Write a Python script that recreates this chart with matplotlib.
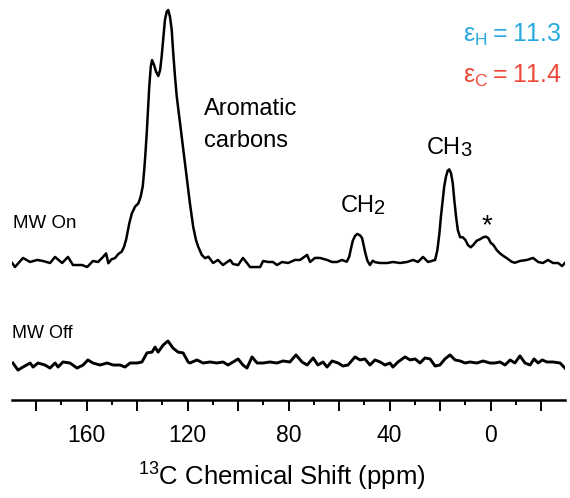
import matplotlib
matplotlib.use("Agg")
import matplotlib.pyplot as plt
from matplotlib.ticker import MultipleLocator, FuncFormatter

FONT = ["Liberation Sans Narrow", "Liberation Sans", "DejaVu Sans"]
plt.rcParams["font.family"] = FONT

# 13C chemical shift (ppm) and intensity (aromatic maximum = 100), MW on
ppm_on = [189.5, 188.4, 185.2, 182.4, 179.6, 177.3, 174.5, 172.5, 169.7, 167.4,
          165.4, 161.8, 159.8, 157.5, 155.5,
          153.4, 152.3, 151.4, 150.1, 148.8, 147.4, 146.1, 145.2, 144.4, 143.9,
          143.1, 142.1, 140.8, 139.5, 138.6, 137.8, 137.3, 136.8, 136.2, 135.7,
          135.2, 134.6, 134.1, 133.3, 132.5, 131.6, 130.9, 130.3, 129.6, 129.0,
          128.3, 127.7, 127.0, 126.3, 125.7, 125.0, 124.3, 123.0, 121.7, 120.4,
          119.1, 117.8, 116.7, 115.8, 114.4, 113.1, 111.8,
          109.9, 108.0, 106.0, 103.2, 102.0, 100.0, 98.1, 96.5, 95.3, 93.3,
          91.3, 90.1, 88.2, 86.2, 84.6, 82.6, 80.2, 77.5, 75.5, 72.7,
          71.5, 69.6, 67.6, 64.8, 62.8, 60.8, 58.9,
          57.0, 56.0, 55.3, 54.6, 53.7, 52.8, 51.7, 50.9, 50.3, 49.6,
          48.8, 47.8, 46.7, 45.7,
          43.8, 41.0, 38.7, 35.9, 33.1, 30.7, 28.8, 26.8, 24.8,
          22.0, 21.1, 20.3, 19.7, 19.0, 18.4, 17.7, 17.0, 16.4, 15.7,
          15.0, 14.4, 13.7, 13.0, 12.1, 11.1, 10.0, 9.0, 7.9, 6.9,
          5.5, 4.2, 2.9, 1.8, 0.9, 0.0, -1.1, -2.4, -3.7, -5.0,
          -6.4, -8.3, -9.6,
          -11.6, -14.4, -16.8, -18.8, -20.7, -22.7, -24.7, -26.7, -28.3, -29.4]
int_on = [0.0, -1.6, 2.0, 0.4, 1.2, 0.8, 0.0, 2.4, 0.0, 2.4,
          -0.8, -0.8, -1.6, 0.8, 0.4,
          2.5, 3.8, -0.1, 1.5, 1.9, 3.6, 4.5, 6.4, 9.1, 11.7,
          15.7, 19.6, 22.3, 23.6, 26.2, 30.2, 35.5, 42.0, 51.3, 60.5,
          69.7, 77.6, 80.2, 78.3, 75.6, 73.9, 76.3, 81.5, 89.4, 96.0,
          99.3, 100.0, 97.4, 92.1, 82.9, 73.6, 65.7, 55.2, 44.7, 34.1,
          23.6, 14.3, 9.1, 6.4, 3.2, 1.9, 2.5,
          0.0, 1.2, -0.8, 1.2, -0.4, -0.8, 2.0, 0.0, -1.6, -1.6,
          -1.6, 0.8, 0.4, 0.4, -0.8, 0.4, 0.0, 1.2, 1.2, 3.2,
          0.4, 2.0, 2.0, 1.2, 0.4, 0.4, 1.2,
          0.5, 2.5, 5.8, 8.8, 10.7, 11.5, 10.9, 9.8, 7.1, 3.8,
          0.9, -0.8, 0.9, 0.3,
          0.0, 0.0, 0.4, 0.0, 0.4, 1.2, 0.4, 2.4, 0.4,
          1.2, 5.1, 11.7, 18.3, 24.9, 30.2, 34.1, 36.5, 37.0, 35.5,
          31.5, 24.9, 18.3, 13.0, 10.2, 10.2, 9.1, 7.1, 6.2, 7.1,
          8.8, 9.4, 10.2, 10.4, 9.8, 8.0, 7.1, 5.1, 3.8, 2.8,
          1.9, 0.5, 0.1,
          0.8, 1.2, 2.0, 0.4, 0.0, 1.2, 0.0, 0.0, -1.2, 0.0]

# MW off
ppm_off = [189.2, 187.2, 185.2, 182.4, 181.2, 179.3, 176.5, 174.5, 172.5, 171.3,
           169.4, 166.6, 163.8, 161.4, 159.5, 157.5, 154.7, 151.9, 149.5, 146.8,
           144.8, 142.8, 140.0, 138.1, 136.1, 134.1, 132.9, 131.7, 129.7, 127.8,
           125.8, 123.8, 121.8, 119.8, 119.1, 116.3, 113.9, 111.1, 108.4, 106.0,
           104.0, 102.0, 100.0, 98.1, 96.5, 94.5, 92.5, 90.1, 87.4, 84.6,
           82.2, 79.5, 77.1, 74.7, 72.7, 70.3, 68.4, 66.4, 64.8, 62.8,
           60.4, 58.5, 56.5, 53.7, 51.7, 49.8, 47.8, 45.8, 43.8, 41.8,
           39.9, 38.7, 36.7, 33.9, 31.9, 29.9, 28.0, 26.0, 24.0, 22.0,
           20.1, 18.1, 16.1, 14.1, 12.1, 10.1, 8.2, 5.4, 3.0, 0.3,
           -1.7, -3.7, -5.7, -7.7, -9.6, -11.6, -13.6, -15.6, -17.2, -18.8,
           -20.4, -22.3, -24.7, -27.5, -29.4]
int_off = [0.0, -2.8, -1.6, 0.0, -1.6, 0.0, -0.8, -2.0, 0.0, -1.6,
           0.4, 0.0, -2.0, -0.8, 1.2, 0.0, -0.8, 0.0, -0.8, -0.8,
           -1.6, 0.0, 0.0, 0.4, 4.0, 4.3, 6.3, 4.3, 7.1, 8.7,
           5.9, 4.3, 4.0, 0.4, 0.0, 1.2, 0.0, 0.4, 0.0, 0.4,
           -0.8, 0.4, 1.6, -0.8, -2.0, 2.4, 0.0, 0.0, 0.4, 0.0,
           0.8, 0.4, 3.2, 0.4, -0.8, 2.0, -0.8, 0.4, -1.6, 0.8,
           0.0, -1.2, -0.8, 2.4, 1.2, 1.6, -0.8, 1.2, 0.4, -0.8,
           0.0, -1.6, 0.4, 2.4, 1.2, 1.6, 0.0, 2.0, 1.6, -1.2,
           -0.8, 1.6, 3.2, 1.2, 0.8, 0.0, 0.4, 0.0, 0.8, 0.0,
           0.0, 0.4, -0.8, 1.2, 0.0, 2.8, 0.0, -0.8, 1.6, 0.0,
           1.2, 0.4, 0.4, 0.0, -2.0]

tick_values = [160, 120, 80, 40, 0]

W, H = 570, 498
fig = plt.figure(figsize=(W / 100, H / 100), dpi=100)

# axes frame in pixels: left, axis-line y, right
x_left, x_right, y_axis = 12.4, 565.4, 400.0
ax = fig.add_axes([x_left / W, (H - y_axis) / H, (x_right - x_left) / W, y_axis / H])
ax.patch.set_alpha(0)

px_per_unit = 2.53
ax.set_xlim(189.4, -29.6)
ax.set_ylim(0, y_axis / px_per_unit)

off_on = (y_axis - 263) / px_per_unit
off_off = (y_axis - 363) / px_per_unit

ax.plot(ppm_on, [v + off_on for v in int_on], color="black", lw=1.8,
        solid_joinstyle="round")
ax.plot(ppm_off, [v + off_off for v in int_off], color="black", lw=2.1,
        solid_joinstyle="round")

for s in ("left", "right", "top"):
    ax.spines[s].set_visible(False)
ax.spines["bottom"].set_linewidth(1.8)
ax.set_yticks([])

ax.xaxis.set_major_locator(MultipleLocator(20))
ax.xaxis.set_minor_locator(MultipleLocator(10))
ax.xaxis.set_major_formatter(
    FuncFormatter(lambda v, p: f"{int(round(v))}" if int(round(v)) in tick_values else ""))
ax.tick_params(axis="x", which="major", direction="out", length=8, width=1.4,
               labelsize=16.5, pad=9.5)
ax.tick_params(axis="x", which="minor", direction="out", length=3.5, width=1.4)


def ftext(x, y, s, **kw):
    return fig.text(x / W, 1 - y / H, s, **kw)


ftext(282, 486, r"$\mathregular{^{13}}$C Chemical Shift (ppm)", ha="center",
      va="baseline", fontsize=18.5)

ftext(204, 115, "Aromatic", ha="left", va="baseline", fontsize=17)
ftext(204, 147, "carbons", ha="left", va="baseline", fontsize=17)

ftext(375, 212, "CH", ha="right", va="baseline", fontsize=17)
ftext(374, 214, "2", ha="left", va="baseline", fontsize=14.5)
ftext(461, 154, "CH", ha="right", va="baseline", fontsize=17)
ftext(460, 156, "3", ha="left", va="baseline", fontsize=14.5)

ftext(487, 233, "*", ha="center", va="baseline", fontsize=20)

ftext(13, 228, "MW On", ha="left", va="baseline", fontsize=13.5)
ftext(12, 338, "MW Off", ha="left", va="baseline", fontsize=13)

ftext(562, 42, r"$\mathregular{ε_H = 11.3}$", ha="right", va="baseline",
      fontsize=18, color="#29A9E0")
ftext(562, 83, r"$\mathregular{ε_C = 11.4}$", ha="right", va="baseline",
      fontsize=18, color="#EF4A3A")

fig.savefig("out.png", dpi=100)
